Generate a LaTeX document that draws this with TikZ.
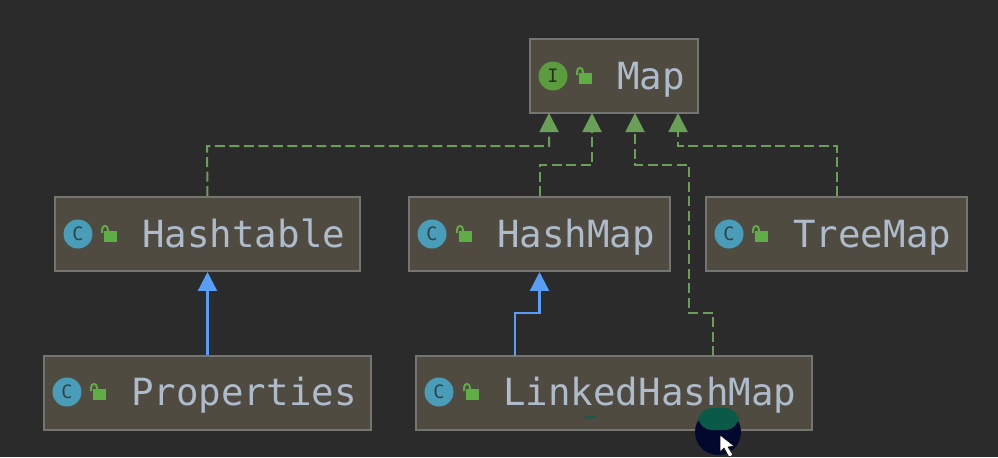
\documentclass[tikz,border=0pt]{standalone}
\usepackage{fontspec}
\setmonofont{DejaVu Sans Mono}
\usepackage{xcolor}
\usetikzlibrary{arrows.meta}
\definecolor{bgdark}{HTML}{2B2B2B}
\definecolor{boxfill}{HTML}{4F4B41}
\definecolor{boxline}{HTML}{747470}
\definecolor{labeltext}{HTML}{AEBBCB}
\definecolor{implgreen}{HTML}{6A9F58}
\definecolor{extblue}{HTML}{589DF6}
\definecolor{iconc}{HTML}{4A9DB8}
\definecolor{iconi}{HTML}{5A9C3E}
\definecolor{lockgreen}{HTML}{5FAE45}
\definecolor{smudgenavy}{HTML}{03082E}
\definecolor{smudgegreen}{HTML}{0A5A48}

\begin{document}
\begin{tikzpicture}[x=0.02cm, y=-0.02cm,
  box/.style={draw=boxline, fill=boxfill, line width=0.04cm, inner sep=0pt, minimum height=1.48cm},
  title/.style={anchor=base west, inner sep=0pt, text=labeltext, font=\ttfamily\fontsize{21.3}{25}\selectfont},
  cicon/.style={circle, fill=iconc, inner sep=0pt, minimum size=0.58cm, text=bgdark!80!iconc, font=\ttfamily\fontsize{10.5}{12}\selectfont},
  iicon/.style={cicon, fill=iconi, text=bgdark},
  impl/.style={-{Triangle[length=0.38cm, width=0.38cm]}, implgreen, line width=0.04cm, dash pattern=on 0.2cm off 0.09cm},
  ext/.style={-{Triangle[length=0.38cm, width=0.38cm]}, extblue, line width=0.045cm},
  lock/.pic={
    \fill[lockgreen] (-5,-4) rectangle (8,7);
    \draw[lockgreen, line width=0.04cm] (-7,-2) -- (-7,-5) .. controls (-7,-10.5) and (-1,-10.5) .. (-1,-5) -- (-1,-4);
  }]
\useasboundingbox (0,0) rectangle (998,457);
\fill[bgdark] (0,0) rectangle (998,457);

\node[box, minimum width=3.36cm] (map) at (614,76) {};
\node[box, minimum width=6.1cm] (hashtable) at (207.5,234) {};
\node[box, minimum width=5.22cm] (hashmap) at (539.5,234) {};
\node[box, minimum width=5.22cm] (treemap) at (836.5,234) {};
\node[box, minimum width=6.54cm] (properties) at (207.5,393) {};
\node[box, minimum width=7.92cm] (linked) at (614,393) {};

\node[iicon] (mapicon) at (553,76) {I};
\node[cicon] (hashtableicon) at (78,234) {C};
\node[cicon] (hashmapicon) at (432,234) {C};
\node[cicon] (treemapicon) at (729,234) {C};
\node[cicon] (propertiesicon) at (67,392) {C};
\node[cicon] (linkedicon) at (439,392) {C};

\pic at (584,77) {lock};
\pic at (109,235) {lock};
\pic at (464,235) {lock};
\pic at (760,235) {lock};
\pic at (98,393) {lock};
\pic at (471,393) {lock};

\node[title] (maptext) at (617,89) {Map};
\node[title] (hashtabletext) at (142,247) {Hashtable};
\node[title] (hashmaptext) at (497,247) {HashMap};
\node[title] (treemaptext) at (793,247) {TreeMap};
\node[title] (propertiestext) at (131,405) {Properties};
\node[title] (linkedtext) at (503,405) {LinkedHashMap};

\coordinate (m1) at (549,113);
\coordinate (m2) at (592,113);
\coordinate (m3) at (635,113);
\coordinate (m4) at (678,113);
\coordinate (ls) at (713,356);
\coordinate (le) at (515,356);

\draw[impl] (hashtable.north) -- (207,146) -- (549,146) -- (m1);
\draw[impl] (hashmap.north) -- (539.5,165) -- (592,165) -- (m2);
\draw[impl] (ls) -- (713,313) -- (689,313) -- (689,165) -- (635,165) -- (m3);
\draw[impl] (treemap.north) -- (836.5,146) -- (678,146) -- (m4);
\draw[ext] (properties.north) -- (hashtable.south);
\draw[ext] (le) -- (515,313) -- (539.5,313) -- (hashmap.south);

% smudge round the mouse pointer
\fill[smudgegreen, opacity=0.8] (590,417) ellipse[x radius=6, y radius=1.5];
\fill[smudgenavy] (718,432) circle[radius=23];
\fill[smudgegreen, rounded corners=8] (698,408) rectangle (739,430);
\fill[white, draw=black, line width=0.01cm] (720,435) -- (720,452) -- (724,448) -- (729,457) -- (733,455) -- (728,447) -- (734,446) -- cycle;
\end{tikzpicture}
\end{document}
